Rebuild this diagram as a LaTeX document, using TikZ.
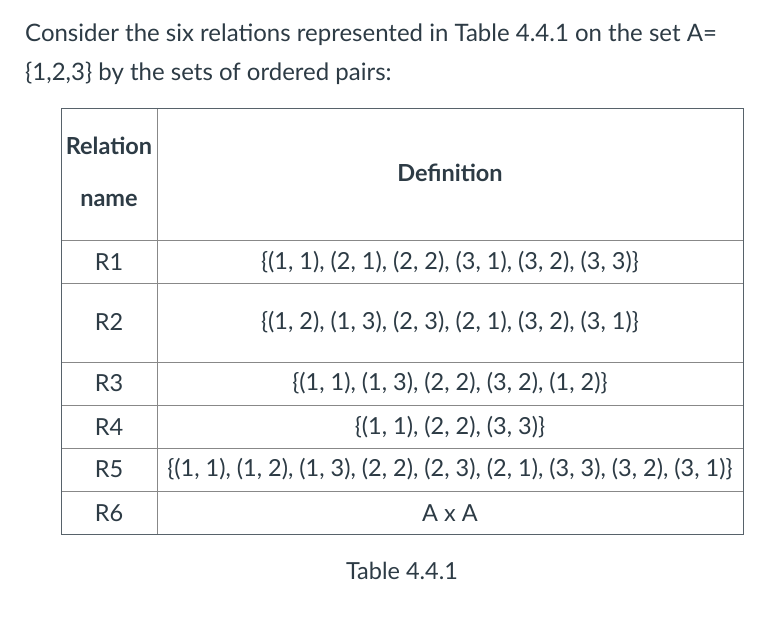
\documentclass[tikz,border=0pt]{standalone}
\usepackage{fontspec}
\setmainfont{Lato}
\definecolor{txt}{HTML}{2D3B45}
\definecolor{ln}{HTML}{888888}
\begin{document}
\begin{tikzpicture}[x=1pt,y=-1pt,
  every node/.style={text=txt,inner sep=0pt},
  body/.style={font=\fontsize{24}{28}\selectfont,anchor=base west},
  cell/.style={font=\fontsize{23.5}{28}\selectfont},
  hd/.style={font=\fontsize{23.5}{28}\selectfont\bfseries}]
\useasboundingbox (0,0) rectangle (779,631);
\node[body] (l1) at (25,42) {Consider the six relations represented in Table 4.4.1 on the set A=};
\node[body] (l2) at (25,81) {\{1,2,3\} by the sets of ordered pairs:};
\foreach \y in {240,283,362,405,448,491} \draw[ln] (61,\y) -- (743,\y);
\draw[ln] (157,108) -- (157,534);
\draw[txt!80,line width=0.9pt] (61,108) rectangle (743,534);
\node[hd] (h1) at (109,146) {Relation};
\node[hd] (h2) at (109,200) {name};
\node[hd] (h3) at (450,173) {Definition};
\foreach \n/\y/\t in {r1/262/{\{(1, 1), (2, 1), (2, 2), (3, 1), (3, 2), (3, 3)\}},
  r2/322/{\{(1, 2), (1, 3), (2, 3), (2, 1), (3, 2), (3, 1)\}},
  r3/383/{\{(1, 1), (1, 3), (2, 2), (3, 2), (1, 2)\}},
  r4/427/{\{(1, 1), (2, 2), (3, 3)\}},
  r5/469/{\{(1, 1), (1, 2), (1, 3), (2, 2), (2, 3), (2, 1), (3, 3), (3, 2), (3, 1)\}},
  r6/513/{A x A}}
  \node[cell] (\n) at (450,\y) {\t};
\foreach \n/\y/\t in {n1/262/R1,n2/322/R2,n3/383/R3,n4/427/R4,n5/469/R5,n6/513/R6}
  \node[cell] (\n) at (109,\y) {\t};
\node[cell] (cap) at (402,571) {Table 4.4.1};
\end{tikzpicture}
\end{document}
